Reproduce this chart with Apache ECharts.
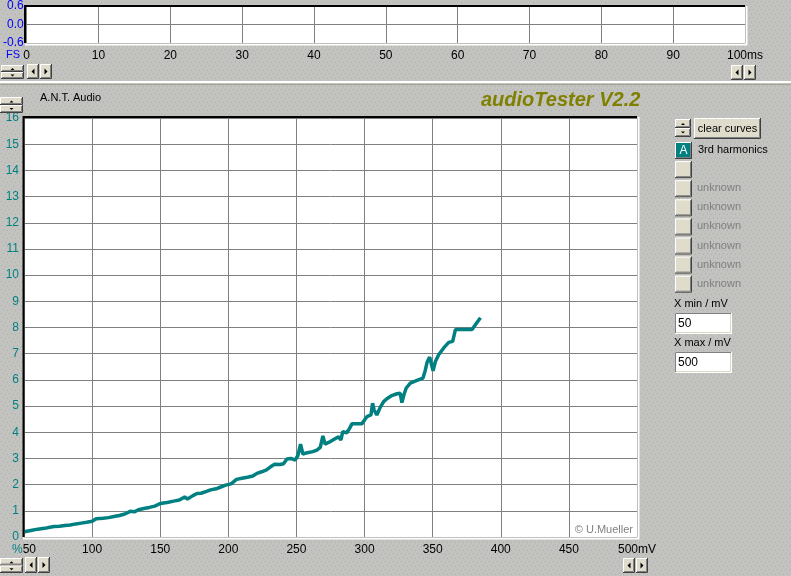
<!DOCTYPE html>
<html><head><meta charset="utf-8">
<script src="https://cdn.jsdelivr.net/npm/echarts@6/dist/echarts.min.js"></script>
<style>html,body{margin:0;padding:0;background:#c0c0c0;overflow:hidden}#c{width:791px;height:576px}</style>
</head><body><div id="c"></div>
<script>
// ---- data ----
const voltageMV = [50.5,52,55,60,65,69,72,76,80,84,88,92,96,100,103,108,112,116,120,124,128,131,134,138,142,146,150,155,160,164,168,170,174,177,180,184,187,191,194,198,202,206,210,214,218,221,225,228,231,234,238,240.5,243,246,249,251,253,254.7,258,262,265,267.5,269.4,271,274,278,281,282.6,284,287,289,290.7,298,301.8,304.7,305.9,307,309,311.5,314,316.4,320,323.8,326.2,327.4,329,330.6,333.6,338.5,342.9,344.5,345.9,347.8,350.3,352,354.4,358.1,361.8,364.7,366.7,378.9,382,385.1];
const harmonic3 = [0.20,0.22,0.25,0.30,0.33,0.37,0.40,0.41,0.44,0.46,0.50,0.53,0.56,0.60,0.70,0.72,0.74,0.78,0.82,0.88,0.98,0.96,1.04,1.09,1.13,1.18,1.28,1.32,1.37,1.41,1.53,1.45,1.58,1.66,1.67,1.74,1.80,1.84,1.90,1.98,2.03,2.20,2.24,2.28,2.33,2.43,2.50,2.56,2.68,2.78,2.77,2.80,2.98,3.00,2.94,3.10,3.55,3.17,3.22,3.26,3.32,3.42,3.86,3.55,3.62,3.74,3.83,3.70,4.02,3.98,4.15,4.32,4.32,4.60,4.66,5.11,4.85,4.66,4.95,5.17,5.28,5.40,5.47,5.49,5.13,5.45,5.69,5.88,5.98,6.07,6.35,6.67,6.87,6.35,6.70,6.96,7.22,7.43,7.47,7.92,7.92,8.15,8.37];
const curveNames = ['3rd harmonics','','unknown','unknown','unknown','unknown','unknown','unknown'];
const xMinText = '50', xMaxText = '500';
const title = 'audioTester V2.2', brand = 'A.N.T. Audio', copyright = '\u00A9 U.Mueller';

// ---- background texture ----
const tile = document.createElement('canvas');
tile.width = 8; tile.height = 8;
const tctx = tile.getContext('2d');
tctx.fillStyle = '#c2c2c0'; tctx.fillRect(0,0,8,8);
tctx.fillStyle = '#afaf9e';
[[1,1],[5,2],[3,5],[7,6]].forEach(p=>tctx.fillRect(p[0],p[1],1,1));

// ---- chart ----
const chart = echarts.init(document.getElementById('c'), null, {renderer:'canvas'});
const FONT = 'Liberation Sans, Arial, sans-serif';
const FACE = '#e0dccc';
const G = [];
function bevel(x,y,w,h,fill,sunken){
  const lt = sunken ? '#808080' : '#ffffff', rb = sunken ? '#ffffff' : '#404040', rb2 = sunken ? '#dcd8c8' : '#808080';
  G.push({type:'rect',shape:{x:x,y:y,width:w,height:h},style:{fill:fill,stroke:null},z:10});
  G.push({type:'polyline',shape:{points:[[x+0.5,y+h-1],[x+0.5,y+0.5],[x+w-1,y+0.5]]},style:{stroke:lt,lineWidth:1,fill:null},z:11});
  G.push({type:'polyline',shape:{points:[[x,y+h-0.5],[x+w-0.5,y+h-0.5],[x+w-0.5,y]]},style:{stroke:rb,lineWidth:1,fill:null},z:11});
  G.push({type:'polyline',shape:{points:[[x+1,y+h-1.5],[x+w-1.5,y+h-1.5],[x+w-1.5,y+1]]},style:{stroke:rb2,lineWidth:1,fill:null},z:11});
}
function tri(points){ G.push({type:'polygon',shape:{points:points},style:{fill:'#000'},z:12}); }
function txt(t,x,y,opt){
  opt = opt||{};
  G.push({type:'text',z:12,style:{text:t,x:x,y:y,font:opt.font||('11px '+FONT),fill:opt.fill||'#000',align:opt.align||'left',verticalAlign:'middle'}});
}
function spin(x,y,w,h){
  const hh = h/2;
  bevel(x,y,w,hh,FACE,false); bevel(x,y+hh,w,hh,FACE,false);
  const cx = x+w/2;
  tri([[cx-2,y+hh/2+1.5],[cx+2,y+hh/2+1.5],[cx,y+hh/2-0.5]]);
  tri([[cx-2,y+hh+hh/2-1],[cx+2,y+hh+hh/2-1],[cx,y+hh+hh/2+1]]);
}
function arrows(x,y,w,h){
  bevel(x,y,w,h,FACE,false); bevel(x+w+1,y,w,h,FACE,false);
  const cy = y+h/2;
  tri([[x+w/2+1.5,cy-3],[x+w/2+1.5,cy+3],[x+w/2-1.5,cy]]);
  const x2 = x+w+1;
  tri([[x2+w/2-1.5,cy-3],[x2+w/2-1.5,cy+3],[x2+w/2+1.5,cy]]);
}
// separator
G.push({type:'line',shape:{x1:0,y1:82,x2:791,y2:82},style:{stroke:'#ffffff',lineWidth:2},z:5});
G.push({type:'line',shape:{x1:0,y1:84.5,x2:791,y2:84.5},style:{stroke:'#a8a498',lineWidth:1},z:5});
// top plot borders
G.push({type:'polyline',shape:{points:[[25,43],[25,6],[745,6]]},style:{stroke:'#000',lineWidth:2,fill:null},z:6});
G.push({type:'polyline',shape:{points:[[25,44.5],[746.5,44.5],[746.5,6]]},style:{stroke:'#fff',lineWidth:2,fill:null},z:6});
// main plot borders
G.push({type:'polyline',shape:{points:[[23.5,537],[23.5,117],[637,117]]},style:{stroke:'#000',lineWidth:2,fill:null},z:6});
G.push({type:'polyline',shape:{points:[[23,538.5],[638.5,538.5],[638.5,117]]},style:{stroke:'#fff',lineWidth:2,fill:null},z:6});
// labels
txt('FS',6,55,{fill:'#0000ff',font:'11px '+FONT});
txt(brand,40,98);
txt(title,481,100,{fill:'#808000',font:'italic bold 20px '+FONT});
txt(copyright,633,530,{fill:'#808080',align:'right'});
// scroll controls
spin(1,65,23,14); arrows(27,64,12,15); arrows(731,65,12,15);
spin(0,97,23,16);
spin(0,558,23,15); arrows(25,557,12,16); arrows(623,558,12,15);
// right panel
spin(675,119,16,18);
bevel(694,118,67,21,FACE,false);
txt('clear curves',727.5,129,{align:'center'});
for (let i=0;i<curveNames.length;i++){
  const y = 142 + i*19.1;
  if (i===0){
    bevel(675,y,17,17,'#008080',false);
    txt('A',683.5,y+8.5,{fill:'#fff',align:'center',font:'12px '+FONT});
    txt(curveNames[i],698,y+8,{});
  } else {
    bevel(675,y,17,17,FACE,false);
    if (curveNames[i]) txt(curveNames[i],697,y+8,{fill:'#808080'});
  }
}
txt('X min / mV',674,304);
bevel(675,313,57,21,'#fff',true);
txt(xMinText,678,324,{font:'12px '+FONT});
txt('X max / mV',674,343);
bevel(675,352,57,21,'#fff',true);
txt(xMaxText,678,363,{font:'12px '+FONT});

const data = voltageMV.map((v,i)=>[v,harmonic3[i]]);
const gridLine = {color:'#808080',width:1};
chart.setOption({
  backgroundColor:{image:tile,repeat:'repeat'},
  animation:false,
  grid:[
    {left:24,right:154,top:118,bottom:39,backgroundColor:'#fff',show:true,borderWidth:0},
    {left:25,right:46,top:6,bottom:533,backgroundColor:'#fff',show:true,borderWidth:0}
  ],
  xAxis:[
    {gridIndex:0,type:'value',min:50,max:500,interval:50,axisLine:{show:false},axisTick:{show:false},splitLine:{show:true,lineStyle:gridLine},
     axisLabel:{color:'#000',fontFamily:FONT,fontSize:12,margin:7,showMinLabel:true,showMaxLabel:true,
       formatter:v=>v===50?'{p|%}50':(v===500?'500mV':String(v)),rich:{p:{color:'#008080',fontFamily:FONT,fontSize:12}}}},
    {gridIndex:1,type:'value',min:0,max:100,interval:10,axisLine:{show:false},axisTick:{show:false},splitLine:{show:true,lineStyle:gridLine},
     axisLabel:{color:'#000',fontFamily:FONT,fontSize:12,margin:7,showMinLabel:true,showMaxLabel:true,formatter:v=>v===100?'100ms':String(v)}}
  ],
  yAxis:[
    {gridIndex:0,type:'value',min:0,max:16,interval:1,axisLine:{show:false},axisTick:{show:false},splitLine:{show:true,lineStyle:gridLine},
     axisLabel:{color:'#008080',fontFamily:FONT,fontSize:12,margin:5,showMinLabel:true,showMaxLabel:true}},
    {gridIndex:1,type:'value',min:-0.6,max:0.6,interval:0.6,axisLine:{show:false},axisTick:{show:false},splitLine:{show:true,lineStyle:gridLine},
     axisLabel:{color:'#0000ff',fontFamily:FONT,fontSize:12,margin:3,showMinLabel:true,showMaxLabel:true,formatter:v=>(Math.abs(v)<1e-9?0:v).toFixed(1)}}
  ],
  series:[
    {type:'line',xAxisIndex:0,yAxisIndex:0,data:data,symbol:'none',lineStyle:{color:'#008080',width:3.5},z:3}
  ],
  graphic:G
});
</script></body></html>
